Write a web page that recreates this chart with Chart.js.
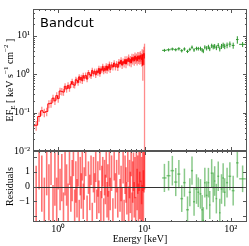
<!DOCTYPE html>
<html>
<head>
<meta charset="utf-8">
<script src="https://cdn.jsdelivr.net/npm/chart.js@4.4.1/dist/chart.umd.min.js"></script>
<style>
  html, body { margin: 0; padding: 0; background: #fff; }
  canvas { display: block; }
</style>
</head>
<body>
<canvas id="myChart" width="249" height="246"></canvas>
<script>
// soft band (red) - energies in keV, EF_E values, relative errors, residuals
const redEnergy = [0.51, 0.555, 0.6, 0.645, 0.69, 0.735, 0.78, 0.825, 0.87, 0.915, 0.96,
  1.0, 1.05, 1.1, 1.15, 1.2, 1.25, 1.3, 1.35, 1.4, 1.45,
  1.5, 1.55, 1.6, 1.65, 1.7, 1.75, 1.8, 1.85, 1.9, 1.95,
  2.0, 2.08, 2.16, 2.24, 2.32, 2.4, 2.48, 2.56, 2.64, 2.72,
  2.8, 2.88, 2.96, 3.04, 3.12, 3.2, 3.28, 3.36, 3.44, 3.52,
  3.6, 3.68, 3.76, 3.84, 3.92,
  4.0, 4.15, 4.3, 4.45, 4.6, 4.75, 4.9, 5.05, 5.2, 5.35,
  5.5, 5.65, 5.8, 5.95, 6.1, 6.25, 6.4, 6.55, 6.7, 6.85,
  7.0, 7.15, 7.3, 7.45, 7.6, 7.75, 7.9, 8.05, 8.2, 8.35,
  8.5, 8.65, 8.8, 8.95, 9.1, 9.25, 9.4, 9.55, 9.7, 9.85, 10.0];
const redFlux = [0.045, 0.047, 0.079, 0.112, 0.101, 0.107, 0.17, 0.175, 0.238, 0.202, 0.278,
  0.232, 0.365, 0.357, 0.342, 0.484, 0.414, 0.512, 0.43, 0.551, 0.644,
  0.537, 0.515, 0.722, 0.69, 0.609, 0.857, 0.713, 0.832, 0.672, 0.927,
  0.79, 0.933, 0.745, 1.11, 0.98, 0.9, 1.26, 1.03, 1.21, 0.96,
  1.22, 1.09, 1.42, 1.02, 1.38, 1.27, 1.61, 1.2, 1.43, 1.28,
  1.64, 1.26, 1.6, 1.44, 1.83,
  1.32, 1.75, 1.54, 1.96, 1.55, 1.85, 1.51, 2.08, 1.86, 2.31,
  1.72, 2.14, 1.9, 2.43, 1.84, 2.43, 2.16, 2.67, 2.09, 2.43,
  1.97, 2.75, 2.31, 2.69, 2.22, 2.96, 2.45, 2.74, 2.26, 2.98,
  2.5, 2.91, 2.47, 3.05, 2.72, 2.4, 3.27, 1.7, 3.02, 3.48, 2.6];
const redErr = [0.3, 0.28, 0.27, 0.26, 0.25, 0.25, 0.24, 0.23, 0.23, 0.22, 0.22,
  0.22, 0.21, 0.22, 0.2, 0.21, 0.2, 0.2, 0.19, 0.2, 0.19,
  0.19, 0.18, 0.19, 0.18, 0.18, 0.17, 0.18, 0.17, 0.17, 0.18,
  0.17, 0.18, 0.17, 0.16, 0.17, 0.16, 0.17, 0.16, 0.16, 0.17,
  0.16, 0.16, 0.17, 0.16, 0.17, 0.16, 0.17, 0.17, 0.16, 0.17,
  0.17, 0.18, 0.17, 0.18, 0.17,
  0.18, 0.18, 0.19, 0.18, 0.19, 0.19, 0.2, 0.19, 0.2, 0.2,
  0.21, 0.2, 0.21, 0.21, 0.22, 0.21, 0.22, 0.22, 0.23, 0.22,
  0.23, 0.24, 0.23, 0.24, 0.25, 0.24, 0.25, 0.26, 0.25, 0.27,
  0.26, 0.28, 0.29, 0.3, 0.32, 0.34, 0.36, 0.6, 0.4, 0.5, 1.4];
const redResid = [0.8, -0.6, 1.5, 0.2, -1.2, 1.0, -0.4, 1.8, -1.5, 0.5, -0.9,
  1.3, -0.2, 0.6, -1.7, 0.9, 0.1, -1.1, 1.6, -0.5, 0.4,
  2.0, -1.4, 0.3, -0.8, 1.2, -2.0, 0.7, -0.3, 1.5, -1.0,
  0.2, 1.9, -1.6, 0.6, -0.4, 1.1, -2.2, 0.8, -0.1, 1.4,
  -1.2, 0.5, -0.7, 2.1, -1.5, 0.3, 1.0, -1.9, 0.6, -0.2,
  1.7, -0.9, 0.4, -1.3, 1.2,
  -0.5, 0.9, -1.8, 1.5, -0.3, 0.7, -1.1, 2.0, -0.6, 0.2,
  -1.4, 1.3, -2.1, 0.8, 0.1, -0.8, 1.6, -1.2, 0.5, -0.4,
  1.9, -1.7, 0.3, 1.0, -0.9, 0.6, -2.0, 1.4, -0.2, 0.8,
  -1.3, 1.1, -0.6, 1.8, -1.0, 0.4, -1.6, 1.2, -0.7, 1.5, 2.4];
const redResidErr = [1.8, 2.0, 1.7, 1.9, 1.8, 1.6, 1.9, 1.7, 1.6, 1.8, 1.5,
  1.5, 1.4, 1.6, 1.3, 1.5, 1.4, 1.3, 1.5, 1.2, 1.4,
  1.3, 1.2, 1.4, 1.3, 1.2, 1.1, 1.3, 1.2, 1.1, 1.2,
  1.1, 1.2, 1.0, 1.1, 1.2, 1.0, 1.1, 1.2, 1.0, 1.1,
  1.0, 1.2, 1.1, 1.0, 1.2, 1.1, 1.0, 1.1, 1.2, 1.0,
  1.1, 1.2, 1.1, 1.0, 1.2,
  1.1, 1.2, 1.0, 1.1, 1.2, 1.1, 1.0, 1.2, 1.1, 1.2,
  1.3, 1.1, 1.2, 1.3, 1.2, 1.1, 1.3, 1.2, 1.3, 1.4,
  1.2, 1.3, 1.4, 1.3, 1.2, 1.4, 1.3, 1.5, 1.4, 1.3,
  1.5, 1.4, 1.6, 1.5, 1.4, 1.6, 1.7, 1.5, 1.8, 1.9, 2.6];

// hard band (green)
const greenEnergy = [17, 19, 21, 23, 25, 27, 29, 31.5, 33.5, 35.5,
  37.5, 40, 42, 44.5, 46.5, 48, 50, 52.5, 55, 57,
  60, 62.5, 65, 68, 71.5, 74.5, 78, 81.5, 85, 90.5,
  97.5, 106.5, 119, 137];
const greenHalfWidth = [1, 1, 1, 1, 1, 1, 1, 1.2, 1, 1,
  1, 1.2, 1, 1.2, 1, 1, 1, 1.2, 1.2, 1,
  1.5, 1.2, 1.2, 1.5, 1.8, 1.5, 1.8, 1.8, 1.8, 2.5,
  3.5, 4, 4, 12];
const greenFlux = [4.19, 4.33, 4.53, 4.35, 4.61, 4.10, 4.54, 3.95, 4.44, 5.04,
  4.30, 4.69, 4.64, 4.66, 4.28, 4.02, 5.06, 4.77, 5.17, 4.59,
  5.52, 5.17, 5.38, 4.93, 5.62, 4.61, 5.35, 5.72, 5.35, 5.71,
  6.08, 5.63, 8.0, 6.0];
const greenErr = [0.09, 0.09, 0.09, 0.09, 0.1, 0.1, 0.1, 0.1, 0.1, 0.11,
  0.11, 0.11, 0.11, 0.12, 0.12, 0.12, 0.12, 0.13, 0.13, 0.13,
  0.13, 0.14, 0.14, 0.14, 0.15, 0.15, 0.15, 0.16, 0.16, 0.17,
  0.17, 0.18, 0.22, 0.15];
const greenResid = [0.58, 0.73, 1.07, 0.3, 0.84, -0.82, 0.26, -1.57, -0.39, 1.07,
  -1.03, -0.17, -0.39, -0.5, -1.57, -2.3, 0.26, -0.6, 0.26, -1.25,
  0.9, -0.06, 0.37, -0.82, 0.69, -1.78, -0.17, 0.58, -0.39, 0.26,
  0.69, -0.28, 1.6, 0.52];
const greenResidErr = [0.95, 1.0, 1.0, 0.95, 0.95, 0.9, 0.95, 0.9, 0.95, 0.95,
  0.95, 1.0, 1.0, 1.0, 1.0, 0.9, 1.0, 0.95, 1.0, 0.95,
  0.95, 1.0, 1.0, 1.0, 1.0, 0.95, 1.0, 1.0, 0.95, 1.0,
  0.95, 1.0, 1.0, 0.9];

// tick labels
const xTickValues = [1, 10, 100];
const yTickValues = [0.01, 0.1, 1, 10];
const residTickValues = [-2, -1, 0, 1, 2];

const SUP = {'0': '\u2070', '1': '\u00b9', '2': '\u00b2', '-': '\u207b'};
function pow10Label(v) {
  const p = Math.round(Math.log10(v));
  return '10' + String(p).split('').map(c => SUP[c]).join('');
}
function isTick(list, v) {
  return list.some(t => Math.abs(t - v) <= Math.abs(t) * 1e-6 + 1e-9);
}

const tickFont = {family: 'Liberation Serif', size: 10};
const RED_BAR = 'rgba(255,0,0,0.45)';
const RED_RES = 'rgba(255,0,0,0.55)';
const GREEN = 'rgb(44,150,44)';
const GREEN_BAR = 'rgba(60,165,60,0.6)';

function vline(ctx, x, y0, y1) {
  ctx.beginPath(); ctx.moveTo(x, y0); ctx.lineTo(x, y1); ctx.stroke();
}
function hline(ctx, x0, x1, y) {
  ctx.beginPath(); ctx.moveTo(x0, y); ctx.lineTo(x1, y); ctx.stroke();
}
function clipPanel(ctx, x, s) {
  ctx.beginPath();
  ctx.rect(x.left, s.top, x.right - x.left, s.bottom - s.top);
  ctx.clip();
}
// text with sub/superscripts, rotated for the y titles
function drawRich(ctx, parts, cx, cy) {
  ctx.save();
  ctx.translate(cx, cy);
  ctx.rotate(-Math.PI / 2);
  ctx.fillStyle = '#000';
  ctx.textBaseline = 'middle';
  let total = 0;
  parts.forEach(p => { ctx.font = p[1] + 'px "Liberation Serif"'; total += ctx.measureText(p[0]).width; });
  let pos = -total / 2;
  parts.forEach(p => {
    ctx.font = p[1] + 'px "Liberation Serif"';
    ctx.fillText(p[0], pos, p[2]);
    pos += ctx.measureText(p[0]).width;
  });
  ctx.restore();
}

const panels = {
  id: 'panels',
  beforeDatasetsDraw(chart) {
    const {ctx, scales: {x, y, res}} = chart;
    // spectrum error bars
    ctx.save();
    clipPanel(ctx, x, y);
    ctx.lineWidth = 1.3;
    ctx.strokeStyle = RED_BAR;
    redEnergy.forEach((e, i) => {
      const f = redFlux[i], d = f * redErr[i];
      const p = x.getPixelForValue(e);
      const lo = f - d > 0 ? y.getPixelForValue(f - d) : y.bottom + 5;
      vline(ctx, p, y.getPixelForValue(f + d), lo);
    });
    ctx.restore();
    // residual bars
    ctx.save();
    clipPanel(ctx, x, res);
    ctx.lineWidth = 1.6;
    ctx.strokeStyle = RED_RES;
    redEnergy.forEach((e, i) => {
      const p = x.getPixelForValue(e);
      vline(ctx, p, res.getPixelForValue(redResid[i] + redResidErr[i]),
        res.getPixelForValue(redResid[i] - redResidErr[i]));
    });
    ctx.lineWidth = 1.5;
    ctx.strokeStyle = GREEN_BAR;
    greenEnergy.forEach((e, i) => {
      const p = x.getPixelForValue(e);
      const r = greenResid[i];
      vline(ctx, p, res.getPixelForValue(r + greenResidErr[i]), res.getPixelForValue(r - greenResidErr[i]));
      hline(ctx, x.getPixelForValue(e - greenHalfWidth[i]), x.getPixelForValue(e + greenHalfWidth[i]), res.getPixelForValue(r));
    });
    ctx.restore();
  },
  afterDatasetsDraw(chart) {
    const {ctx, scales: {x, y}} = chart;
    ctx.save();
    clipPanel(ctx, x, y);
    ctx.lineWidth = 1;
    ctx.strokeStyle = GREEN;
    greenEnergy.forEach((e, i) => {
      const f = greenFlux[i], d = f * greenErr[i];
      const p = x.getPixelForValue(e), q = y.getPixelForValue(f);
      vline(ctx, p, y.getPixelForValue(f + d), y.getPixelForValue(f - d));
      hline(ctx, x.getPixelForValue(e - greenHalfWidth[i]), x.getPixelForValue(e + greenHalfWidth[i]), q);
    });
    ctx.restore();
  },
  afterDraw(chart) {
    const {ctx, scales: {x, y, res}} = chart;
    ctx.save();
    ctx.strokeStyle = '#333';
    ctx.lineWidth = 1;
    // zero line
    const z = Math.round(res.getPixelForValue(0)) + 0.5;
    hline(ctx, x.left, x.right, z);
    // frames and inward ticks
    [y, res].forEach(s => {
      ctx.strokeStyle = '#555';
      ctx.strokeRect(x.left + 0.5, s.top + 0.5, x.right - x.left - 1, s.bottom - s.top - 1);
      for (let d = -1; d <= 2; d++) {
        for (let m = 1; m <= 9; m++) {
          const v = m * Math.pow(10, d);
          if (v < x.min || v > x.max) continue;
          const p = Math.round(x.getPixelForValue(v)) + 0.5;
          const len = m === 1 ? 4 : 2;
          vline(ctx, p, s.top, s.top + len);
          vline(ctx, p, s.bottom, s.bottom - len);
        }
      }
    });
    for (let d = -2; d <= 1; d++) {
      for (let m = 1; m <= 9; m++) {
        const v = m * Math.pow(10, d);
        if (v < y.min || v > y.max) continue;
        const q = Math.round(y.getPixelForValue(v)) + 0.5;
        const len = m === 1 ? 4 : 2;
        hline(ctx, x.left, x.left + len, q);
        hline(ctx, x.right - len, x.right, q);
      }
    }
    residTickValues.forEach(v => {
      const q = Math.round(res.getPixelForValue(v)) + 0.5;
      hline(ctx, x.left, x.left + 4, q);
      hline(ctx, x.right - 4, x.right, q);
    });
    ctx.restore();
    // titles
    drawRich(ctx, [['EF', 10, 0], ['E', 7, 3], [' [ keV s', 10, 0], ['\u22121', 7, -4],
      [' cm', 10, 0], ['\u22122', 7, -4], [' ]', 10, 0]], 10, (y.top + y.bottom) / 2);
    drawRich(ctx, [['Residuals', 10, 0]], 10, (res.top + res.bottom) / 2);
    ctx.save();
    ctx.fillStyle = '#000';
    ctx.font = '13px "DejaVu Sans"';
    ctx.textBaseline = 'alphabetic';
    ctx.fillText('Bandcut', x.left + 7, y.top + 18);
    ctx.restore();
  }
};

const canvas = document.getElementById('myChart');
const ctx = canvas.getContext('2d');
const chart = new Chart(ctx, {
  type: 'scatter',
  data: {
    datasets: [{
      label: 'soft',
      data: redEnergy.map((e, i) => ({x: e, y: redFlux[i]})),
      yAxisID: 'y',
      showLine: true,
      stepped: 'middle',
      borderColor: 'rgb(255,0,0)',
      borderWidth: 1,
      pointRadius: 0
    }, {
      label: 'hard',
      data: greenEnergy.map((e, i) => ({x: e, y: greenFlux[i]})),
      yAxisID: 'y',
      pointRadius: 0
    }, {
      label: 'soft residuals',
      data: redEnergy.map((e, i) => ({x: e, y: redResid[i]})),
      yAxisID: 'res',
      pointRadius: 0
    }, {
      label: 'hard residuals',
      data: greenEnergy.map((e, i) => ({x: e, y: greenResid[i]})),
      yAxisID: 'res',
      pointRadius: 0
    }]
  },
  options: {
    responsive: false,
    animation: false,
    devicePixelRatio: 1,
    events: [],
    layout: {padding: {left: 0, right: 2, top: 0, bottom: 0}},
    plugins: {legend: {display: false}, tooltip: {enabled: false}},
    scales: {
      x: {
        type: 'logarithmic',
        position: 'bottom',
        min: 0.51,
        max: 154,
        grid: {display: false, drawTicks: false},
        border: {display: false},
        ticks: {
          autoSkip: false, maxRotation: 0, padding: 1, color: '#000', font: tickFont,
          callback: v => isTick(xTickValues, v) ? pow10Label(v) : ''
        },
        title: {display: true, text: 'Energy [keV]', color: '#000', font: tickFont, padding: {top: 0, bottom: 1}},
        afterFit(s) { s.height = 24; }
      },
      y: {
        type: 'logarithmic',
        position: 'left',
        stack: 'panels',
        stackWeight: 2,
        weight: 2,
        min: 0.01,
        max: 50,
        grid: {display: false, drawTicks: false},
        border: {display: false},
        ticks: {
          autoSkip: false, padding: 3, color: '#000', font: tickFont,
          callback: v => isTick(yTickValues, v) ? pow10Label(v) : ''
        },
        afterFit(s) { s.width = 33; }
      },
      res: {
        type: 'linear',
        position: 'left',
        stack: 'panels',
        stackWeight: 1,
        weight: 1,
        min: -2.4,
        max: 2.4,
        grid: {display: false, drawTicks: false},
        border: {display: false},
        ticks: {
          stepSize: 1, autoSkip: false, padding: 3, color: '#000', font: tickFont,
          callback: v => isTick(residTickValues, v) ? (v < 0 ? '\u2212' + (-v) : String(v)) : ''
        },
        afterFit(s) { s.width = 33; }
      }
    }
  },
  plugins: [panels]
});
</script>
</body>
</html>
